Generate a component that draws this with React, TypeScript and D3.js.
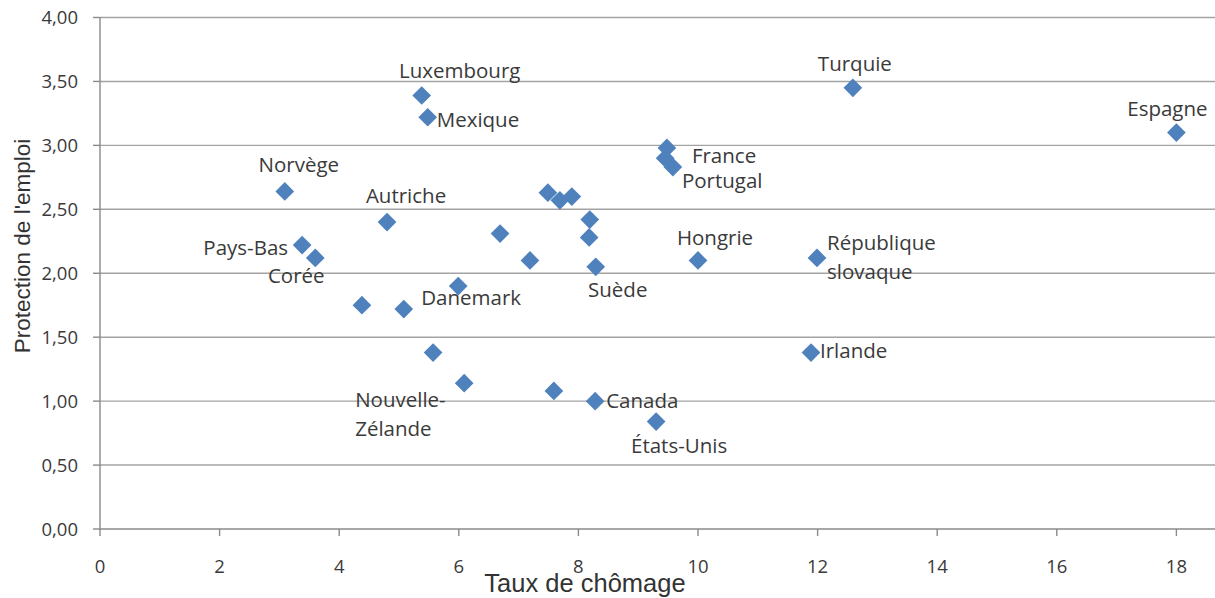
import React from "react";
import * as d3 from "d3";

const countries = [
  "Luxembourg", "Mexique", "Turquie", "Espagne", "France", "", "Portugal",
  "Norvège", "Autriche", "Pays-Bas", "Corée", "Danemark", "", "", "", "",
  "", "", "", "", "", "Suède", "Hongrie", "République slovaque", "Irlande",
  "", "Nouvelle-Zélande", "", "Canada", "États-Unis",
];
const unemployment = [
  5.38, 5.48, 12.59, 18.0, 9.48, 9.45, 9.58, 3.09, 4.8, 3.38, 3.6, 5.99,
  4.38, 5.08, 6.69, 7.19, 7.49, 7.69, 7.89, 8.19, 8.18, 8.29, 10.0, 11.99,
  11.89, 5.57, 6.09, 7.59, 8.28, 9.3,
];
const protection = [
  3.39, 3.22, 3.45, 3.1, 2.98, 2.9, 2.83, 2.64, 2.4, 2.22, 2.12, 1.9,
  1.75, 1.72, 2.31, 2.1, 2.63, 2.57, 2.6, 2.42, 2.28, 2.05, 2.1, 2.12,
  1.38, 1.38, 1.14, 1.08, 1.0, 0.84,
];
const xTicks = [0, 2, 4, 6, 8, 10, 12, 14, 16, 18];
const yTicks = [0, 0.5, 1, 1.5, 2, 2.5, 3, 3.5, 4];
const xTitle = "Taux de chômage";
const yTitle = "Protection de l'emploi";

// label placement (pixels relative to the marker), styling only
type LabelPos = { dx: number; dy: number; anchor: string; lines?: string[] };
const labelPos: Record<string, LabelPos> = {
  Luxembourg: { dx: 38, dy: -18, anchor: "middle" },
  Mexique: { dx: 9, dy: 10, anchor: "start" },
  Turquie: { dx: 2, dy: -17, anchor: "middle" },
  Espagne: { dx: -9, dy: -17, anchor: "middle" },
  France: { dx: 25, dy: 15, anchor: "start" },
  Portugal: { dx: 9, dy: 21, anchor: "start" },
  Norvège: { dx: 14, dy: -19, anchor: "middle" },
  Autriche: { dx: 19, dy: -19, anchor: "middle" },
  "Pays-Bas": { dx: -14, dy: 10, anchor: "end" },
  Corée: { dx: -19, dy: 25, anchor: "middle" },
  Danemark: { dx: 13, dy: 19, anchor: "middle" },
  Suède: { dx: 22, dy: 30, anchor: "middle" },
  Hongrie: { dx: 17, dy: -15, anchor: "middle" },
  "République slovaque": { dx: 10, dy: -8, anchor: "start", lines: ["République", "slovaque"] },
  Irlande: { dx: 9, dy: 5, anchor: "start" },
  "Nouvelle-Zélande": { dx: -109, dy: 24, anchor: "start", lines: ["Nouvelle-", "Zélande"] },
  Canada: { dx: 11, dy: 7, anchor: "start" },
  "États-Unis": { dx: 23, dy: 31, anchor: "middle" },
};

const W = 1215;
const H = 598;

export default function App() {
  const x = d3.scaleLinear().domain([0, 20]).range([100, 100 + 59.8 * 20]);
  const y = d3.scaleLinear().domain([0, 4]).range([529, 17.5]);
  const diamond = d3.symbol(d3.symbolSquare, 175)()!;
  const labelFont = "'Open Sans', sans-serif";
  const textColor = "#3a3a3a";
  const gridColor = "#a3a3a3";
  const axisColor = "#8a8a8a";

  return (
    <svg
      width={W}
      height={H}
      style={{ position: "absolute", left: 0, top: 0, background: "#fff" }}
    >
      {/* gridlines */}
      {yTicks.filter((t) => t > 0).map((t) => (
        <line key={"g" + t} x1={x(0)} x2={x(20)} y1={y(t)} y2={y(t)} stroke={gridColor} strokeWidth={1.4} />
      ))}
      {/* y axis */}
      <line x1={x(0)} x2={x(0)} y1={y(4)} y2={y(0)} stroke={axisColor} strokeWidth={1.4} />
      {yTicks.map((t) => (
        <g key={"yt" + t}>
          <line x1={x(0) - 7} x2={x(0)} y1={y(t)} y2={y(t)} stroke={axisColor} strokeWidth={1.4} />
          <text
            x={78}
            y={y(t)}
            dy="0.36em"
            textAnchor="end"
            fontFamily={labelFont}
            fontSize={18.5}
            fill={textColor}
          >
            {t.toFixed(2).replace(".", ",")}
          </text>
        </g>
      ))}
      {/* x axis */}
      <line x1={x(0)} x2={x(20)} y1={y(0)} y2={y(0)} stroke={axisColor} strokeWidth={1.4} />
      {xTicks.map((t) => (
        <g key={"xt" + t}>
          <line x1={x(t)} x2={x(t)} y1={y(0)} y2={y(0) + 7} stroke={axisColor} strokeWidth={1.4} />
          <text
            x={x(t)}
            y={573}
            textAnchor="middle"
            fontFamily={labelFont}
            fontSize={18.5}
            fill={textColor}
          >
            {t}
          </text>
        </g>
      ))}
      {/* axis titles */}
      <text
        x={585}
        y={592}
        textAnchor="middle"
        fontFamily="'Liberation Sans', Arial, sans-serif"
        fontSize={25.5}
        fill="#333"
      >
        {xTitle}
      </text>
      <text
        transform={`translate(30,246) rotate(-90)`}
        textAnchor="middle"
        fontFamily="'Liberation Sans', Arial, sans-serif"
        fontSize={22.5}
        fill="#333"
      >
        {yTitle}
      </text>
      {/* markers */}
      {unemployment.map((u, i) => (
        <path
          key={"m" + i}
          d={diamond}
          transform={`translate(${x(u)},${y(protection[i])}) rotate(45)`}
          fill="#4f81bd"
        />
      ))}
      {/* labels */}
      {countries.map((c, i) => {
        if (!c || !labelPos[c]) return null;
        const p = labelPos[c];
        const lines = p.lines ?? [c];
        const px = x(unemployment[i]) + p.dx;
        const py = y(protection[i]) + p.dy;
        return (
          <text
            key={"l" + i}
            x={px}
            y={py}
            textAnchor={p.anchor}
            fontFamily={labelFont}
            fontSize={20.5}
            fill={textColor}
          >
            {lines.map((ln, k) => (
              <tspan key={k} x={px} dy={k === 0 ? 0 : 29}>
                {ln}
              </tspan>
            ))}
          </text>
        );
      })}
    </svg>
  );
}
